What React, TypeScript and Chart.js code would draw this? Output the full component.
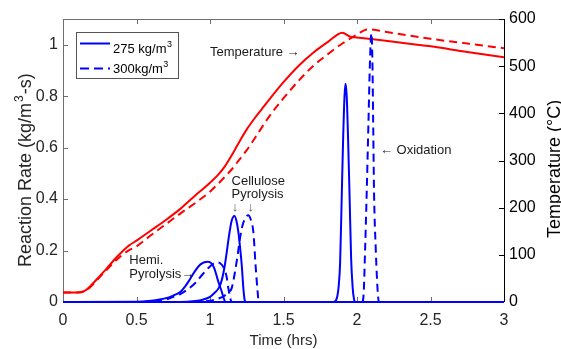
import React, { useEffect, useRef } from 'react';
import { Chart, registerables } from 'chart.js';

Chart.register(...registerables);

// ---------- axis ticks ----------
const xTicks = [0, 0.5, 1, 1.5, 2, 2.5, 3];
const xTickLabels = ['0', '0.5', '1', '1.5', '2', '2.5', '3'];
const rateTicks = [0, 0.2, 0.4, 0.6, 0.8, 1];
const rateTickLabels = ['0', '0.2', '0.4', '0.6', '0.8', '1'];
const tempTicks = [0, 100, 200, 300, 400, 500, 600];
const tempTickLabels = ['0', '100', '200', '300', '400', '500', '600'];

const xTitle = 'Time (hrs)';
const rateTitle = ['Reaction Rate (kg/m', '3', '-s)'];
const tempTitle = 'Temperature (°C)';

const legendBase = ['275 kg/m', '300kg/m'];
const legendSup = ['3', '3'];

// ---------- temperature (°C) ----------
const tempTime275 = [0, 0.1, 0.15, 0.2, 0.25, 0.3, 0.35, 0.4, 0.45, 0.5, 0.6, 0.7, 0.8, 0.9, 0.95, 1.0, 1.05, 1.1, 1.15, 1.2, 1.25, 1.3, 1.35, 1.4, 1.5, 1.6, 1.7, 1.8, 1.9, 1.95, 2.0, 2.25, 2.5, 2.75, 3.0];
const temp275 = [20, 20, 24, 38, 55, 72, 90, 106, 120, 130, 152, 174, 198, 226, 239, 253, 268, 287, 312, 340, 366, 388, 408, 428, 466, 500, 528, 551, 571, 563, 561, 552, 542, 530, 519];

const tempTime300 = [0, 0.1, 0.15, 0.2, 0.25, 0.3, 0.35, 0.4, 0.45, 0.5, 0.6, 0.7, 0.8, 0.9, 1.0, 1.1, 1.15, 1.2, 1.25, 1.3, 1.4, 1.5, 1.6, 1.7, 1.8, 1.9, 2.0, 2.07, 2.25, 2.5, 2.75, 3.0];
const temp300 = [20, 20, 23, 36, 53, 69, 85, 99, 110, 118, 142, 165, 188, 210, 234, 265, 282, 302, 322, 345, 392, 432, 468, 500, 525, 548, 567, 578, 570, 558, 548, 538];

// ---------- reaction rates (kg/m3-s), 275 kg/m3 ----------
const hemiTime275 = [0, 0.5, 0.6, 0.7, 0.75, 0.8, 0.83, 0.86, 0.9, 0.94, 0.985, 1.01, 1.03, 1.056, 1.08, 1.095, 1.105, 3];
const hemiRate275 = [0, 0.001, 0.005, 0.015, 0.025, 0.04, 0.06, 0.085, 0.122, 0.148, 0.156, 0.15, 0.13, 0.08, 0.04, 0.012, 0, 0];

const celTime275 = [0, 0.8, 0.9, 0.95, 1.0, 1.03, 1.06, 1.08, 1.1, 1.113, 1.13, 1.147, 1.166, 1.18, 1.193, 1.205, 1.216, 1.227, 1.235, 1.242, 3];
const celRate275 = [0, 0, 0.004, 0.009, 0.02, 0.035, 0.055, 0.085, 0.14, 0.19, 0.26, 0.315, 0.334, 0.315, 0.272, 0.21, 0.143, 0.053, 0.01, 0, 0];

const oxTime275 = [0, 1.84, 1.86, 1.875, 1.885, 1.895, 1.905, 1.915, 1.922, 1.93, 1.94, 1.95, 1.96, 1.97, 1.98, 1.99, 3];
const oxRate275 = [0, 0, 0.01, 0.06, 0.15, 0.38, 0.62, 0.8, 0.848, 0.8, 0.62, 0.4, 0.17, 0.06, 0.01, 0, 0];

// ---------- reaction rates (kg/m3-s), 300 kg/m3 ----------
const hemiTime300 = [0, 0.5, 0.6, 0.7, 0.75, 0.8, 0.85, 0.9, 0.95, 1.0, 1.045, 1.07, 1.09, 1.113, 1.125, 1.14, 1.15, 3];
const hemiRate300 = [0, 0, 0.003, 0.01, 0.02, 0.032, 0.05, 0.074, 0.108, 0.138, 0.154, 0.15, 0.137, 0.098, 0.053, 0.01, 0, 0];

const celTime300 = [0, 0.9, 1.0, 1.05, 1.1, 1.13, 1.147, 1.17, 1.19, 1.204, 1.22, 1.238, 1.26, 1.28, 1.295, 1.31, 1.324, 1.332, 3];
const celRate300 = [0, 0, 0.005, 0.012, 0.025, 0.04, 0.053, 0.117, 0.19, 0.247, 0.295, 0.324, 0.337, 0.315, 0.272, 0.143, 0.04, 0, 0];

const oxTime300 = [0, 2.035, 2.045, 2.055, 2.066, 2.078, 2.088, 2.098, 2.105, 2.11, 2.116, 2.128, 2.142, 2.15, 3];
const oxRate300 = [0, 0, 0.03, 0.2, 0.425, 0.7, 0.93, 1.045, 0.93, 0.7, 0.425, 0.2, 0.03, 0, 0];

// ---------- text annotations (time in hrs, left-axis value) ----------
const noteTexts = ['Temperature →', '← Oxidation', 'Cellulose', 'Pyrolysis', '↓', '↓', 'Hemi.', 'Pyrolysis→'];
const noteTimes = [1.0, 2.156, 1.147, 1.147, 1.17, 1.277, 0.451, 0.451];
const noteRates = [0.971, 0.588, 0.469, 0.419, 0.368, 0.368, 0.163, 0.109];
const noteAligns = ['left', 'left', 'left', 'left', 'center', 'center', 'left', 'left'];

const FONT = '"Liberation Sans", Arial, Helvetica, sans-serif';
const BLUE = '#0000ff';
const RED = '#ff0000';

const pts = (xs: number[], ys: number[]) => xs.map((x, i) => ({ x, y: ys[i] }));

const decorPlugin = {
  id: 'decor',
  beforeDatasetsDraw(chart: any) {
    const { ctx, chartArea: a, scales } = chart;
    ctx.save();
    ctx.lineWidth = 1;
    ctx.strokeStyle = '#6e6e6e';
    ctx.beginPath();
    ctx.moveTo(a.left + 0.5, a.bottom);
    ctx.lineTo(a.left + 0.5, a.top + 0.5);
    ctx.lineTo(a.right, a.top + 0.5);
    ctx.moveTo(a.left, a.bottom - 0.5);
    ctx.lineTo(a.right, a.bottom - 0.5);
    ctx.stroke();
    ctx.beginPath();
    xTicks.forEach((v) => {
      const px = Math.round(scales.x.getPixelForValue(v)) + 0.5;
      ctx.moveTo(px, a.bottom);
      ctx.lineTo(px, a.bottom - 5);
      ctx.moveTo(px, a.top);
      ctx.lineTo(px, a.top + 5);
    });
    rateTicks.forEach((v) => {
      const py = Math.round(scales.y.getPixelForValue(v)) + 0.5;
      ctx.moveTo(a.left, py);
      ctx.lineTo(a.left + 5, py);
    });
    ctx.stroke();
    ctx.strokeStyle = '#000';
    ctx.beginPath();
    ctx.moveTo(a.right + 0.5, a.top);
    ctx.lineTo(a.right + 0.5, a.bottom);
    tempTicks.forEach((v) => {
      const py = Math.round(scales.y2.getPixelForValue(v)) + 0.5;
      ctx.moveTo(a.right, py);
      ctx.lineTo(a.right - 5, py);
    });
    ctx.stroke();
    ctx.restore();
  },
  afterDatasetsDraw(chart: any) {
    const { ctx, scales } = chart;
    ctx.save();
    // legend
    const lx = 76, ly = 32, lw = 102, lh = 46;
    ctx.fillStyle = '#fff';
    ctx.fillRect(lx, ly, lw, lh);
    ctx.strokeStyle = '#555';
    ctx.lineWidth = 1;
    ctx.strokeRect(lx + 0.5, ly + 0.5, lw, lh);
    const rowLine = [43.5, 68.5];
    const rowBase = [52.5, 73];
    const dashes = [[], [9, 5]];
    for (let i = 0; i < 2; i++) {
      ctx.strokeStyle = BLUE;
      ctx.lineWidth = 2;
      ctx.setLineDash(dashes[i]);
      ctx.beginPath();
      ctx.moveTo(80, rowLine[i]);
      ctx.lineTo(110, rowLine[i]);
      ctx.stroke();
      ctx.setLineDash([]);
      ctx.fillStyle = '#000';
      ctx.textAlign = 'left';
      ctx.textBaseline = 'alphabetic';
      ctx.font = `13px ${FONT}`;
      ctx.fillText(legendBase[i], 113, rowBase[i]);
      const w = ctx.measureText(legendBase[i]).width;
      ctx.font = `9px ${FONT}`;
      ctx.fillText(legendSup[i], 113 + w + 0.5, rowBase[i] - 6);
    }
    // annotations
    ctx.font = `13px ${FONT}`;
    ctx.textBaseline = 'middle';
    noteTexts.forEach((t, i) => {
      const px = scales.x.getPixelForValue(noteTimes[i]);
      const py = scales.y.getPixelForValue(noteRates[i]);
      ctx.textAlign = noteAligns[i] as CanvasTextAlign;
      ctx.fillStyle = t === '↓' ? '#555' : '#1a1a1a';
      ctx.fillText(t, px, py);
    });
    // left title
    ctx.fillStyle = '#262626';
    ctx.textAlign = 'left';
    ctx.textBaseline = 'alphabetic';
    ctx.save();
    ctx.translate(31, 267);
    ctx.rotate(-Math.PI / 2);
    ctx.font = `18px ${FONT}`;
    ctx.fillText(rateTitle[0], 0, 0);
    let w = ctx.measureText(rateTitle[0]).width;
    ctx.font = `12px ${FONT}`;
    ctx.fillText(rateTitle[1], w + 1, -8);
    w += ctx.measureText(rateTitle[1]).width + 2;
    ctx.font = `18px ${FONT}`;
    ctx.fillText(rateTitle[2], w, 0);
    ctx.restore();
    // right title
    ctx.fillStyle = '#000';
    ctx.save();
    ctx.translate(560, 238);
    ctx.rotate(-Math.PI / 2);
    ctx.font = `18px ${FONT}`;
    ctx.fillText(tempTitle, 0, 0);
    ctx.restore();
    ctx.restore();
  },
};

export default function App() {
  const canvasRef = useRef<HTMLCanvasElement | null>(null);

  useEffect(() => {
    if (!canvasRef.current) return;
    Chart.defaults.font.family = FONT;
    const blue = (xs: number[], ys: number[], dashed: boolean) => ({
      data: pts(xs, ys),
      borderColor: BLUE,
      borderWidth: 2,
      borderDash: dashed ? [8, 5] : [],
      pointRadius: 0,
      fill: false,
      yAxisID: 'y',
      cubicInterpolationMode: 'monotone' as const,
      clip: 5,
    });
    const red = (xs: number[], ys: number[], dashed: boolean) => ({
      data: pts(xs, ys),
      borderColor: RED,
      borderWidth: 2,
      borderDash: dashed ? [8, 5] : [],
      pointRadius: 0,
      fill: false,
      yAxisID: 'y2',
      cubicInterpolationMode: 'monotone' as const,
    });
    const chart = new Chart(canvasRef.current, {
      type: 'line',
      data: {
        datasets: [
          blue(hemiTime275, hemiRate275, false),
          blue(celTime275, celRate275, false),
          blue(oxTime275, oxRate275, false),
          blue(hemiTime300, hemiRate300, true),
          blue(celTime300, celRate300, true),
          blue(oxTime300, oxRate300, true),
          red(tempTime275, temp275, false),
          red(tempTime300, temp300, true),
        ] as any,
      },
      options: {
        responsive: false,
        animation: false,
        devicePixelRatio: 1,
        layout: { padding: { top: 19, left: 0, right: 0, bottom: 0 } },
        plugins: { legend: { display: false }, tooltip: { enabled: false } },
        scales: {
          x: {
            type: 'linear',
            position: 'bottom',
            min: 0,
            max: 3,
            grid: { display: false, drawTicks: false },
            border: { display: false },
            ticks: {
              padding: 9,
              color: '#262626',
              font: { size: 16 },
              autoSkip: false,
              maxRotation: 0,
              callback: (_v: any, i: number) => xTickLabels[i],
            },
            afterBuildTicks: (s: any) => {
              s.ticks = xTicks.map((v) => ({ value: v }));
            },
            afterFit: (s: any) => {
              s.height = 47;
            },
            title: {
              display: true,
              text: xTitle,
              color: '#262626',
              font: { size: 15, lineHeight: 1 },
              padding: { top: 0, bottom: 1 },
            },
          },
          y: {
            type: 'linear',
            position: 'left',
            min: 0,
            max: 1.1,
            grid: { display: false, drawTicks: false },
            border: { display: false },
            ticks: {
              padding: 5,
              color: '#262626',
              font: { size: 16 },
              autoSkip: false,
              callback: (_v: any, i: number) => rateTickLabels[i],
            },
            afterBuildTicks: (s: any) => {
              s.ticks = rateTicks.map((v) => ({ value: v }));
            },
            afterFit: (s: any) => {
              s.width = 63;
            },
          },
          y2: {
            type: 'linear',
            position: 'right',
            min: 0,
            max: 600,
            grid: { display: false, drawTicks: false },
            border: { display: false },
            ticks: {
              padding: 5,
              color: '#000',
              font: { size: 16 },
              autoSkip: false,
              callback: (_v: any, i: number) => tempTickLabels[i],
            },
            afterBuildTicks: (s: any) => {
              s.ticks = tempTicks.map((v) => ({ value: v }));
            },
            afterFit: (s: any) => {
              s.width = 57;
            },
          },
        },
      } as any,
      plugins: [decorPlugin],
    });
    return () => chart.destroy();
  }, []);

  return (
    <div style={{ position: 'fixed', left: 0, top: 0, width: 561, height: 349, background: '#fff' }}>
      <canvas ref={canvasRef} width={561} height={349} style={{ display: 'block' }} />
    </div>
  );
}
